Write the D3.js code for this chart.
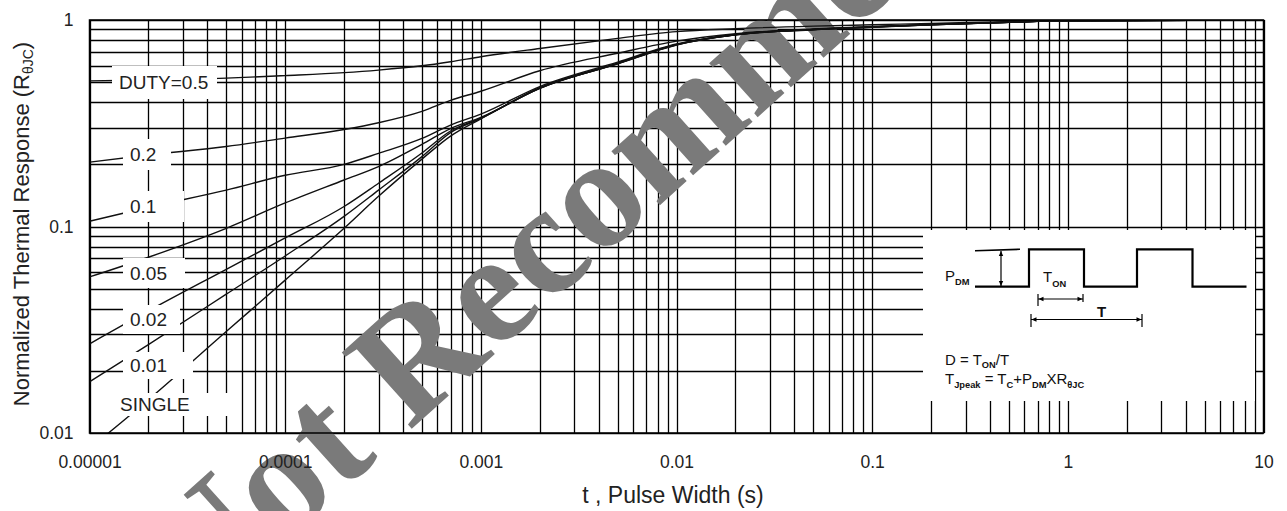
<!DOCTYPE html>
<html>
<head>
<meta charset="utf-8">
<script src="https://cdn.jsdelivr.net/npm/d3@7"></script>
<style>
  html, body { margin: 0; padding: 0; background: #fff; }
  svg { display: block; font-family: "Liberation Sans", Arial, sans-serif; }
</style>
</head>
<body>
<svg id="chart" width="1287" height="511"></svg>
<script>
// ---- data -------------------------------------------------------------
// pulse widths (s) at which every response curve is sampled
const pulseWidths = [1e-5, 2e-5, 5e-5, 1e-4, 2e-4, 3e-4, 5e-4, 7e-4, 1e-3, 2e-3,
                     5e-3, 1e-2, 2e-2, 5e-2, 0.1, 0.2, 0.5, 1, 10];

// normalized thermal response per duty cycle
const duty050 = [0.507, 0.512, 0.523, 0.538, 0.556, 0.572, 0.600, 0.628, 0.664, 0.728,
                 0.815, 0.878, 0.908, 0.934, 0.948, 0.962, 0.982, 0.993, 1.0];
const duty020 = [0.205, 0.222, 0.244, 0.268, 0.295, 0.318, 0.361, 0.408, 0.452, 0.568,
                 0.690, 0.790, 0.858, 0.905, 0.930, 0.952, 0.976, 0.990, 1.0];
const duty010 = [0.106, 0.124, 0.150, 0.177, 0.200, 0.226, 0.267, 0.310, 0.350, 0.476,
                 0.625, 0.765, 0.850, 0.900, 0.926, 0.950, 0.975, 0.990, 1.0];
const duty005 = [0.057, 0.071, 0.098, 0.130, 0.168, 0.195, 0.250, 0.298, 0.338, 0.470,
                 0.618, 0.762, 0.850, 0.900, 0.925, 0.950, 0.975, 0.990, 1.0];
const duty002 = [0.027, 0.039, 0.062, 0.088, 0.125, 0.162, 0.227, 0.290, 0.335, 0.468,
                 0.615, 0.760, 0.849, 0.899, 0.925, 0.949, 0.975, 0.990, 1.0];
const duty001 = [0.0177, 0.0268, 0.047, 0.072, 0.112, 0.150, 0.218, 0.285, 0.334, 0.467,
                 0.614, 0.758, 0.848, 0.898, 0.924, 0.949, 0.974, 0.990, 1.0];
const singlePulse = [0.0084, 0.0145, 0.031, 0.055, 0.098, 0.140, 0.212, 0.274, 0.332, 0.466,
                     0.613, 0.757, 0.847, 0.897, 0.923, 0.948, 0.974, 0.990, 1.0];

const curveNames = ["DUTY=0.5", "0.2", "0.1", "0.05", "0.02", "0.01", "SINGLE"];
const curveValues = [duty050, duty020, duty010, duty005, duty002, duty001, singlePulse];

// axis ticks
const xTickValues = [0.00001, 0.0001, 0.001, 0.01, 0.1, 1, 10];
const xTickLabels = ["0.00001", "0.0001", "0.001", "0.01", "0.1", "1", "10"];
const yTickValues = [0.01, 0.1, 1];
const yTickLabels = ["0.01", "0.1", "1"];

// ---- layout -----------------------------------------------------------
const W = 1287, H = 511;
const plot = { left: 89.5, right: 1263.5, top: 20, bottom: 433 };

// white boxes holding the curve names: [x0, x1, y0, y1, textX]
const labelLayout = {
  "DUTY=0.5": [112, 217, 66, 99, 119],
  "0.2":      [123, 171, 139, 170, 130],
  "0.1":      [123, 184, 191, 222, 130],
  "0.05":     [123, 185, 258, 288, 130],
  "0.02":     [123, 180, 305, 334, 130],
  "0.01":     [123, 193, 352, 379, 130],
  "SINGLE":   [114, 236, 393, 416, 120]
};

const svg = d3.select("#chart");
svg.append("rect").attr("width", W).attr("height", H).attr("fill", "#fff");

const x = d3.scaleLog().domain([1e-5, 10]).range([plot.left, plot.right]);
const y = d3.scaleLog().domain([0.01, 1]).range([plot.bottom, plot.top]);

// ---- log grid ---------------------------------------------------------
const xGrid = [];
for (let e = -5; e <= 0; e++) for (let m = 1; m <= 9; m++) xGrid.push(m * Math.pow(10, e));
xGrid.push(10);
const yGrid = [];
for (let e = -2; e <= -1; e++) for (let m = 1; m <= 9; m++) yGrid.push(m * Math.pow(10, e));
yGrid.push(1);

const grid = svg.append("g").attr("stroke", "#000").attr("stroke-width", 1.3);
grid.selectAll("line.v").data(xGrid).join("line").attr("class", "v")
  .attr("x1", d => Math.round(x(d)) + 0.5).attr("x2", d => Math.round(x(d)) + 0.5)
  .attr("y1", plot.top).attr("y2", plot.bottom);
grid.selectAll("line.h").data(yGrid).join("line").attr("class", "h")
  .attr("y1", d => Math.round(y(d)) + 0.5).attr("y2", d => Math.round(y(d)) + 0.5)
  .attr("x1", plot.left).attr("x2", plot.right);

// ---- watermark --------------------------------------------------------
svg.append("text")
  .attr("transform", "translate(197,622) rotate(-42)")
  .attr("font-family", "'Liberation Serif', 'Times New Roman', serif")
  .attr("font-weight", "bold")
  .attr("font-size", 158)
  .attr("fill", "#7a7a7a")
  .text("Not Recommended");

// ---- curves -----------------------------------------------------------
svg.append("clipPath").attr("id", "plotClip").append("rect")
  .attr("x", plot.left).attr("y", plot.top)
  .attr("width", plot.right - plot.left).attr("height", plot.bottom - plot.top);

const line = d3.line()
  .x(d => x(d[0])).y(d => y(d[1]))
  .curve(d3.curveMonotoneX);

svg.append("g").attr("clip-path", "url(#plotClip)")
  .selectAll("path").data(curveValues).join("path")
  .attr("d", vals => line(pulseWidths.map((t, i) => [t, vals[i]])))
  .attr("fill", "none").attr("stroke", "#111").attr("stroke-width", 1.4);

// ---- curve name boxes -------------------------------------------------
const lab = svg.append("g");
curveNames.forEach(name => {
  const [x0, x1, y0, y1, tx] = labelLayout[name];
  lab.append("rect").attr("x", x0).attr("y", y0)
    .attr("width", x1 - x0).attr("height", y1 - y0).attr("fill", "#fff");
  lab.append("text").attr("x", tx).attr("y", (y0 + y1) / 2)
    .attr("dy", "0.36em").attr("font-size", 19).attr("fill", "#222").text(name);
});

// ---- frame ------------------------------------------------------------
svg.append("rect")
  .attr("x", plot.left).attr("y", plot.top)
  .attr("width", plot.right - plot.left).attr("height", plot.bottom - plot.top)
  .attr("fill", "none").attr("stroke", "#000").attr("stroke-width", 1.5);

// ---- inset: pulse train definition -------------------------------------
const inset = svg.append("g");
inset.append("rect").attr("x", 923).attr("y", 230).attr("width", 332).attr("height", 171)
  .attr("fill", "#fff");
const lo = 286.7, hi = 249.3;
const pulsePts = [[975, lo], [1029, lo], [1029, hi], [1084, hi], [1084, lo], [1137, lo],
                  [1137, hi], [1192.5, hi], [1192.5, lo], [1246.5, lo]];
inset.append("path").attr("d", d3.line()(pulsePts))
  .attr("fill", "none").attr("stroke", "#000").attr("stroke-width", 2.2);

function seg(x1, y1, x2, y2, w) {
  inset.append("line").attr("x1", x1).attr("y1", y1).attr("x2", x2).attr("y2", y2)
    .attr("stroke", "#000").attr("stroke-width", w || 1.2);
}
function arrowHead(px, py, dir) {
  // small filled head pointing in direction dir (radians)
  const L = 5, Wd = 2.2;
  const bx = px - L * Math.cos(dir), by = py - L * Math.sin(dir);
  const nx = -Math.sin(dir) * Wd, ny = Math.cos(dir) * Wd;
  inset.append("path").attr("d", `M${px},${py}L${bx + nx},${by + ny}L${bx - nx},${by - ny}Z`)
    .attr("fill", "#000");
}
// P_DM amplitude marker
seg(975, 250.7, 1020, 249.3, 1.6);
seg(1001, 251, 1001, 286);
arrowHead(1001, 251, -Math.PI / 2);
arrowHead(1001, 286, Math.PI / 2);
// T_ON span
seg(1038, 299, 1083, 299);
seg(1038, 294, 1038, 306); seg(1083, 294, 1083, 302);
arrowHead(1038.5, 299, Math.PI); arrowHead(1082.5, 299, 0);
// period T span
seg(1031, 319.5, 1142, 319.5);
seg(1031, 314, 1031, 327); seg(1142, 314, 1142, 327);
arrowHead(1031.5, 319.5, Math.PI); arrowHead(1141.5, 319.5, 0);

function richText(xp, yp, parts, size, shift) {
  const t = inset.append("text").attr("x", xp).attr("y", yp)
    .attr("font-size", size).attr("fill", "#111");
  parts.forEach(p => {
    const s = t.append("tspan").text(p[0]);
    if (p[1] === "sub") {
      s.attr("font-size", size * 0.62).attr("font-weight", "bold").attr("dy", shift);
    } else if (p[1] === "back") {
      s.attr("dy", -shift);
    }
  });
  return t;
}
richText(945, 281, [["P"], ["DM", "sub"]], 15, 3.5);
richText(1043, 282, [["T"], ["ON", "sub"]], 15, 4.5);
inset.append("text").attr("x", 1097).attr("y", 316.5).attr("font-size", 15)
  .attr("font-weight", "bold").attr("fill", "#111").text("T");
richText(945, 365, [["D = T"], ["ON", "sub"], ["/T", "back"]], 15, 2.5);
richText(945, 384, [["T"], ["Jpeak", "sub"], [" = T", "back"], ["C", "sub"], ["+P", "back"],
                    ["DM", "sub"], ["XR", "back"], ["θJC", "sub"]], 15, 3.5);

// ---- axes -------------------------------------------------------------
const xAxis = d3.axisBottom(x).tickValues(xTickValues)
  .tickFormat((d, i) => xTickLabels[i]).tickSize(0).tickPadding(0);
const gx = svg.append("g").attr("transform", `translate(0,${plot.bottom})`).call(xAxis);
gx.select(".domain").remove();
gx.selectAll("text").attr("y", 35).attr("dy", 0)
  .attr("font-family", "'Liberation Sans', Arial, sans-serif")
  .attr("font-size", 17.5).attr("fill", "#222");

const yAxis = d3.axisLeft(y).tickValues(yTickValues)
  .tickFormat((d, i) => yTickLabels[i]).tickSize(0).tickPadding(16);
const gy = svg.append("g").attr("transform", `translate(${plot.left},0)`).call(yAxis);
gy.select(".domain").remove();
gy.selectAll("text")
  .attr("font-family", "'Liberation Sans', Arial, sans-serif")
  .attr("font-size", 17.5).attr("fill", "#222");

// axis titles
svg.append("text")
  .attr("x", 673).attr("y", 503)
  .attr("text-anchor", "middle").attr("font-size", 23).attr("fill", "#222")
  .text("t , Pulse Width (s)");

const yTitle = svg.append("text")
  .attr("transform", "translate(29,224) rotate(-90)")
  .attr("text-anchor", "middle").attr("font-size", 22).attr("fill", "#222");
yTitle.append("tspan").text("Normalized Thermal Response (R");
yTitle.append("tspan").text("θJC").attr("font-size", 14).attr("dy", 4);
yTitle.append("tspan").text(")").attr("dy", -4);
</script>
</body>
</html>
